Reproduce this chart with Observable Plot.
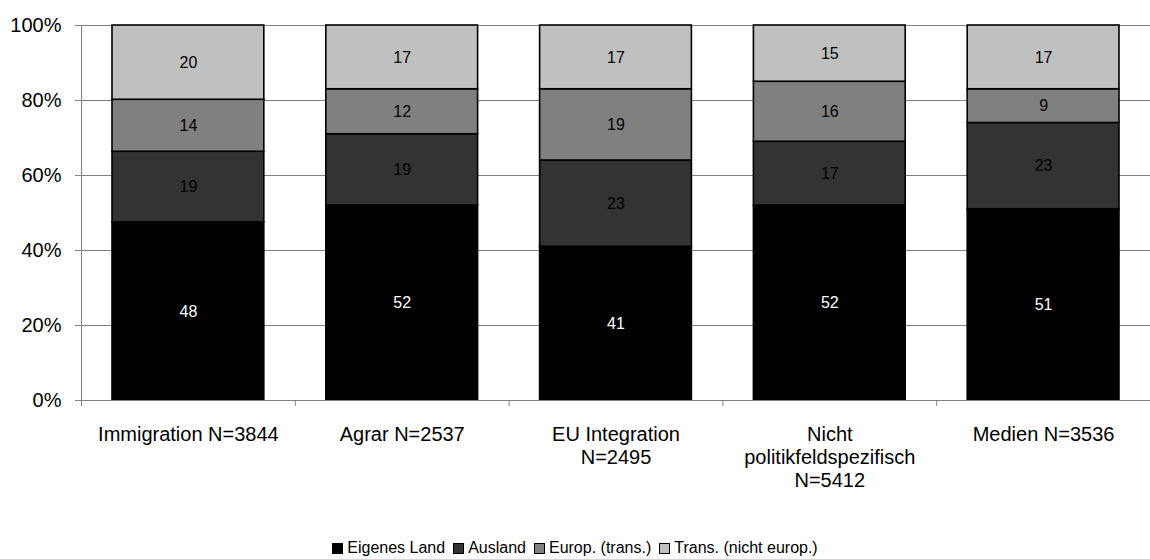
<!DOCTYPE html>
<html>
<head>
<meta charset="utf-8">
<script src="https://cdn.jsdelivr.net/npm/d3@7"></script>
<script src="https://cdn.jsdelivr.net/npm/@observablehq/plot@0.6"></script>
<style>
  body { margin: 0; background: #fff; font-family: "Liberation Sans", Arial, sans-serif; }
  #legend { display: flex; justify-content: center; align-items: center; margin-top: 28px; height: 20px;
            font-size: 16px; color: #000; }
  #legend .item { display: flex; align-items: center; margin: 0 4px; }
  #legend .sw { width: 9px; height: 9px; border: 1px solid #000; margin-right: 4px; }
</style>
</head>
<body>
<div id="chart"></div>
<div id="legend"></div>
<script>
const categories = [
  "Immigration N=3844",
  "Agrar N=2537",
  "EU Integration\nN=2495",
  "Nicht\npolitikfeldspezifisch\nN=5412",
  "Medien N=3536"
];
const series = ["Eigenes Land", "Ausland", "Europ. (trans.)", "Trans. (nicht europ.)"];
const colors = ["#000000", "#333333", "#808080", "#c0c0c0"];
const eigenesLand = [48, 52, 41, 52, 51];
const ausland = [19, 19, 23, 17, 23];
const europTrans = [14, 12, 19, 16, 9];
const transNichtEurop = [20, 17, 17, 15, 17];
const yTicks = [0, 0.2, 0.4, 0.6, 0.8, 1.0];

const seriesValues = [eigenesLand, ausland, europTrans, transNichtEurop];

// build stacked (normalized) rows
const rows = [];
categories.forEach((cat, i) => {
  const total = d3.sum(seriesValues, s => s[i]);
  let acc = 0;
  series.forEach((s, k) => {
    const v = seriesValues[k][i];
    rows.push({i, cat, series: s, value: v, y1: acc / total, y2: (acc + v) / total});
    acc += v;
  });
});

const chart = Plot.plot({
  width: 1150,
  height: 510,
  marginLeft: 81,
  marginRight: 0,
  marginTop: 25,
  marginBottom: 110,
  style: {fontFamily: "'Liberation Sans', Arial, sans-serif", color: "#000", background: "#fff"},
  x: {domain: [0, categories.length], axis: null, label: null},
  y: {domain: [0, 1], axis: null, label: null},
  color: {domain: series, range: colors},
  marks: [
    Plot.gridY(yTicks, {stroke: "#808080", strokeOpacity: 1}),
    Plot.rect(rows, {
      x1: "i", x2: d => d.i + 1, y1: "y1", y2: "y2",
      fill: "series", stroke: "#000", strokeWidth: 1.6,
      insetLeft: 31, insetRight: 31
    }),
    Plot.text(rows.filter(d => d.series === series[0]), {
      x: d => d.i + 0.5, y: d => (d.y1 + d.y2) / 2, text: d => String(d.value),
      fill: "white", fontSize: 16
    }),
    Plot.text(rows.filter(d => d.series !== series[0]), {
      x: d => d.i + 0.5, y: d => (d.y1 + d.y2) / 2, text: d => String(d.value),
      fill: "black", fontSize: 16
    }),
    Plot.ruleX([0], {stroke: "#808080"}),
    Plot.ruleY([0], {stroke: "#808080"}),
    Plot.axisY(yTicks, {
      tickFormat: d3.format(".0%"), tickSize: 6, tickPadding: 14,
      fontSize: 20, stroke: "#808080", fill: "#000", label: null
    }),
    Plot.axisX(d3.range(categories.length + 1), {
      tickSize: 6, tickFormat: () => "", stroke: "#808080", label: null
    }),
    Plot.axisX(d3.range(categories.length).map(i => i + 0.5), {
      tickSize: 0, tickPadding: 24, tickFormat: d => categories[Math.floor(d)],
      fontSize: 20, lineHeight: 1.15, fill: "#000", label: null
    })
  ]
});
document.getElementById("chart").append(chart);

const legend = document.getElementById("legend");
series.forEach((s, k) => {
  const item = document.createElement("span");
  item.className = "item";
  const sw = document.createElement("span");
  sw.className = "sw";
  sw.style.background = colors[k];
  item.append(sw, document.createTextNode(s));
  legend.append(item);
});
</script>
</body>
</html>
